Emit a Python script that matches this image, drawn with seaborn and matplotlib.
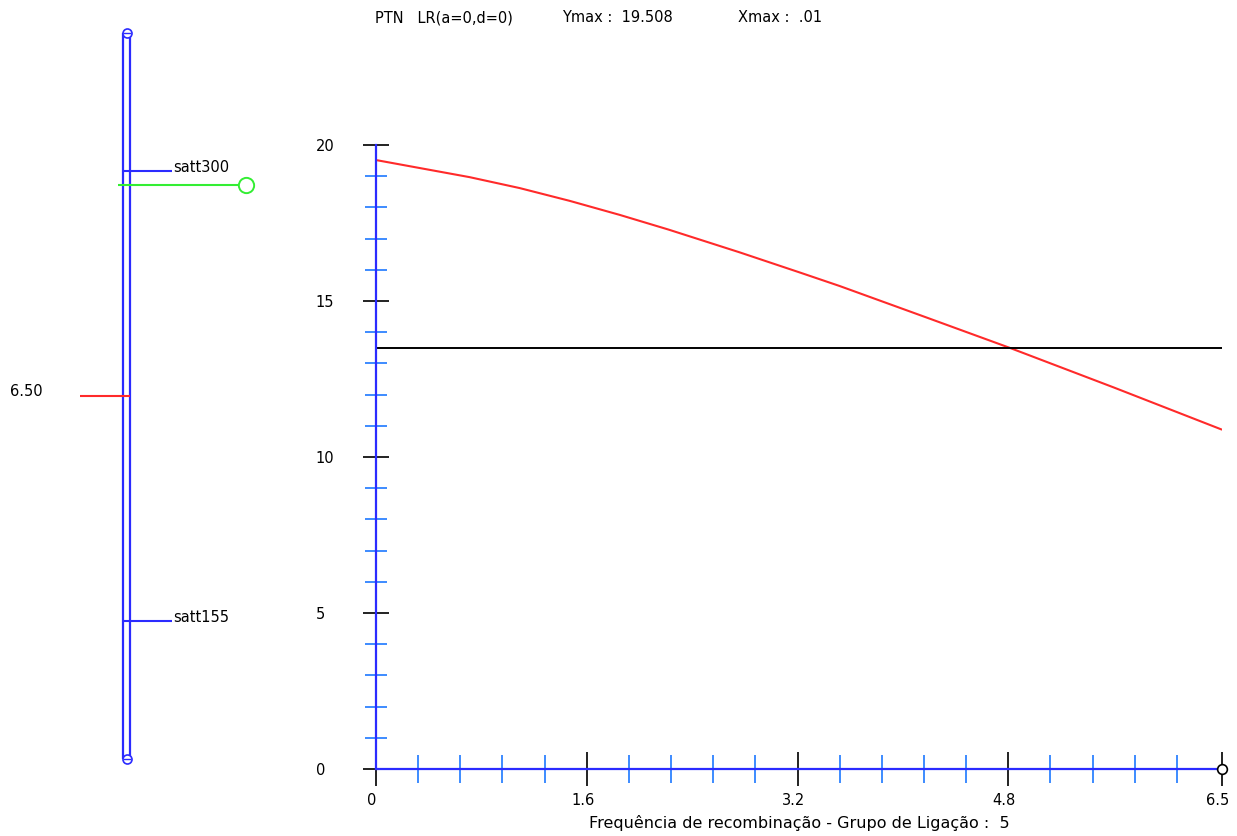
import matplotlib
matplotlib.use("Agg")
import matplotlib.pyplot as plt
import matplotlib.transforms as mtransforms
import pandas as pd
import seaborn as sns

# LR profile along the linkage group
rec_freq = [0.01, 0.71, 1.09, 1.47, 1.85, 2.22, 2.76, 3.22, 3.52, 4.18, 4.81, 5.6, 6.42]
lr_value = [19.51, 18.97, 18.62, 18.21, 17.76, 17.29, 16.56, 15.91, 15.48, 14.47, 13.5, 12.23, 10.88]
threshold = 13.5

x_major = [0, 1.6, 3.2, 4.8, 6.42]
x_major_labels = ["0", "1.6", "3.2", "4.8", "6.5"]
x_minor = [0.32, 0.64, 0.96, 1.28, 1.92, 2.24, 2.56, 2.88,
           3.52, 3.84, 4.16, 4.48, 5.12, 5.44, 5.76, 6.08]
y_major = [0, 5, 10, 15, 20]
y_minor = [1, 2, 3, 4, 6, 7, 8, 9, 11, 12, 13, 14, 16, 17, 18, 19]

# linkage map (cM)
marker_names = ["satt300", "satt155"]
marker_pos = [0.0, 13.0]
qtl_pos = 6.50
peak_pos = 0.4
chrom_ends = [-4.0, 17.0]

BLUE = "#2b2bff"
LIGHT_BLUE = "#3d8bff"
RED = "#ff2a2a"
GREEN = "#33ee33"
FONT = 10.5

sns.set_style("white")
plt.rcParams["font.family"] = ["DejaVu Sans"]
plt.rcParams["text.color"] = "black"
plt.rcParams["xtick.color"] = "black"
plt.rcParams["ytick.color"] = "black"

W, H = 1237, 836
fig = plt.figure(figsize=(W / 100, H / 100), dpi=100)

# ---- LR plot ----
ax = fig.add_axes([376 / W, (H - 769) / H, (1221.7 - 376) / W, (769 - 145) / H])
df = pd.DataFrame({"rf": rec_freq, "lr": lr_value})
sns.lineplot(data=df, x="rf", y="lr", ax=ax, color=RED, lw=1.5)
ax.axhline(threshold, color="black", lw=1.4)
ax.plot([x_major[-1]], [0], marker="o", ms=7, mfc="white", mec="black",
        mew=1.2, clip_on=False, zorder=5)

ax.set_xlim(0, x_major[-1])
ax.set_ylim(0, 20)
for s in ["top", "right"]:
    ax.spines[s].set_visible(False)
for s in ["left", "bottom"]:
    ax.spines[s].set_color(BLUE)
    ax.spines[s].set_linewidth(1.6)

ax.set_xticks(x_major)
ax.set_xticklabels(x_major_labels)
ax.set_xticks(x_minor, minor=True)
ax.set_yticks(y_major)
ax.set_yticks(y_minor, minor=True)
ax.tick_params(bottom=True, left=True, which="both")
ax.tick_params(axis="x", which="major", direction="inout", length=25, width=1.4,
               color="#222222", pad=5, labelsize=FONT, labelcolor="black")
ax.tick_params(axis="x", which="minor", direction="inout", length=20, width=1.4,
               color=LIGHT_BLUE)
ax.tick_params(axis="y", which="major", direction="inout", length=19, width=1.4,
               color="#222222", pad=34, labelsize=FONT, labelcolor="black")
ax.tick_params(axis="y", which="minor", direction="inout", length=16, width=1.4,
               color=LIGHT_BLUE)
for lab in ax.get_yticklabels():
    lab.set_horizontalalignment("left")
# labels sit a little left of their ticks in the original
shift = mtransforms.ScaledTranslation(-4 / 100, 0, fig.dpi_scale_trans)
for lab in ax.get_xticklabels():
    lab.set_transform(lab.get_transform() + shift)
ax.set_xlabel("Frequência de recombinação - Grupo de Ligação :  5",
              fontsize=11.5, labelpad=5, color="black")
ax.set_ylabel("")

# ---- linkage group drawing ----
cx = fig.add_axes([0, 0, 300 / W, 1])
cx.set_xlim(0, 300)
cx.set_ylim((H - 171) / 34.615, -171 / 34.615)
cx.axis("off")
rail_x = [123, 130]
cx.vlines(rail_x, chrom_ends[0], chrom_ends[1], color=BLUE, lw=1.6)
for e in chrom_ends:
    cx.plot([126.5], [e], marker="o", ms=6.5, mfc="white", mec=BLUE, mew=1.2)
    cx.plot([126.5], [e], marker="_", ms=6, mec=BLUE, mew=1.0)
cx.hlines(marker_pos, rail_x[0], 172, color=BLUE, lw=1.5)
for name, p in zip(marker_names, marker_pos):
    cx.text(173, p - 0.1, name, fontsize=FONT, va="center", ha="left")
cx.hlines(peak_pos, 118, 239, color=GREEN, lw=1.5)
cx.plot([245.5], [peak_pos], marker="o", ms=11, mfc="white", mec=GREEN, mew=1.4)
cx.hlines(qtl_pos, 80, rail_x[1], color=RED, lw=1.5)
cx.text(10, qtl_pos - 0.12, f"{qtl_pos:.2f}", fontsize=FONT, va="center", ha="left")

# ---- header ----
ty = 1 - 18 / H
fig.text(375 / W, ty, "PTN   LR(a=0,d=0)", fontsize=FONT, va="center")
fig.text(562 / W, ty, "Ymax :  19.508", fontsize=FONT, va="center")
fig.text(738 / W, ty, "Xmax :  .01", fontsize=FONT, va="center")

fig.savefig("out.png", dpi=100, facecolor="white")
